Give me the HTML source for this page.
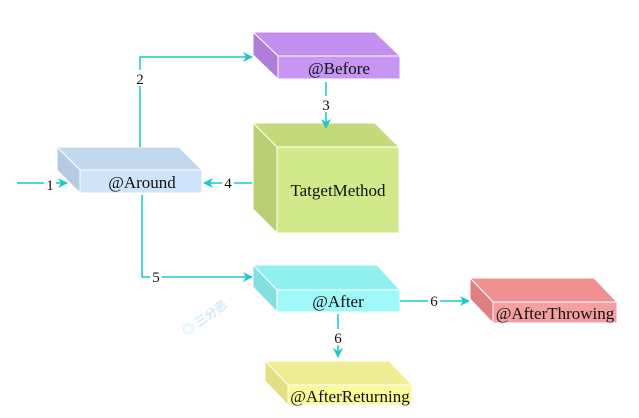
<!DOCTYPE html>
<html><head><meta charset="utf-8"><style>
html,body{margin:0;padding:0;background:#fff;width:639px;height:418px;overflow:hidden}
text{font-family:"Liberation Serif",serif;fill:#111}
</style></head><body>
<svg width="639" height="418" viewBox="0 0 639 418" xmlns="http://www.w3.org/2000/svg">
<defs><marker id="a" markerWidth="10" markerHeight="10" refX="9" refY="5" orient="auto" markerUnits="userSpaceOnUse"><path d="M0,0 L10,5 L0,10 L3,5 Z" fill="#1cc8c8"/></marker></defs>
<g stroke="#fff" stroke-width="1">
<polygon points="253,32 375,32 400,56 278,56" fill="#c490f0"/>
<polygon points="253,32 278,56 278,79 253,55" fill="#b07ed8"/>
<rect x="278" y="56" width="122" height="23" fill="#c796f2"/>
<polygon points="57,147 179,147 202,170 80,170" fill="#c2d8ef"/>
<polygon points="57,147 80,170 80,193 57,170" fill="#b5cbe4"/>
<rect x="80" y="170" width="122" height="23" fill="#cde4fb"/>
<polygon points="253,123 375,123 399,147 277,147" fill="#c3d97a"/>
<polygon points="253,123 277,147 277,233 253,209" fill="#b8cf74"/>
<rect x="277" y="147" width="122" height="86" fill="#d0e98a"/>
<polygon points="253,265 377,265 400,290 277,290" fill="#8ff0ee"/>
<polygon points="253,265 277,290 277,312 253,287" fill="#84e0e0"/>
<rect x="277" y="290" width="123" height="22" fill="#9ff8f8"/>
<polygon points="470,278 594,278 617,302 493,302" fill="#f09090"/>
<polygon points="470,278 493,302 493,323 470,299" fill="#de8080"/>
<rect x="493" y="302" width="124" height="21" fill="#f4a0a0"/>
<polygon points="265,361 389,361 412,385 288,385" fill="#f0ee94"/>
<polygon points="265,361 288,385 288,405 265,381" fill="#e2e080"/>
<rect x="288" y="385" width="124" height="20" fill="#fafa9a"/>
</g>
<g stroke="#1cc8c8" stroke-width="1.5" fill="none">
<path d="M17,183 H67" marker-end="url(#a)"/>
<path d="M140,147 V57 H252" marker-end="url(#a)"/>
<path d="M326,82 V128" marker-end="url(#a)"/>
<path d="M252,183 H204" marker-end="url(#a)"/>
<path d="M142,195 V277 H252" marker-end="url(#a)"/>
<path d="M400,301 H469" marker-end="url(#a)"/>
<path d="M338,314 V357" marker-end="url(#a)"/>
</g>
<g font-size="15" text-anchor="middle">
<rect x="44" y="176" width="12" height="16" fill="#fff"/><text x="50" y="190">1</text>
<rect x="134" y="70" width="12" height="16" fill="#fff"/><text x="140" y="84">2</text>
<rect x="320" y="96" width="12" height="16" fill="#fff"/><text x="326" y="110">3</text>
<rect x="222" y="175" width="12" height="16" fill="#fff"/><text x="228" y="188">4</text>
<rect x="150" y="269" width="12" height="16" fill="#fff"/><text x="156" y="282">5</text>
<rect x="428" y="293" width="12" height="16" fill="#fff"/><text x="434" y="306">6</text>
<rect x="332" y="329" width="12" height="16" fill="#fff"/><text x="338" y="343">6</text>
</g>
<g font-size="17" text-anchor="middle">
<text x="339" y="74">@Before</text>
<text x="142" y="188">@Around</text>
<text x="338" y="196">TatgetMethod</text>
<text x="338" y="307">@After</text>
<text x="555" y="319">@AfterThrowing</text>
<text x="350" y="402">@AfterReturning</text>
</g>
<text x="175" y="330" font-size="12" style="fill:#bfe0f5" transform="rotate(-35 190 315)">◎ 三分恶</text>
</svg>
</body></html>
